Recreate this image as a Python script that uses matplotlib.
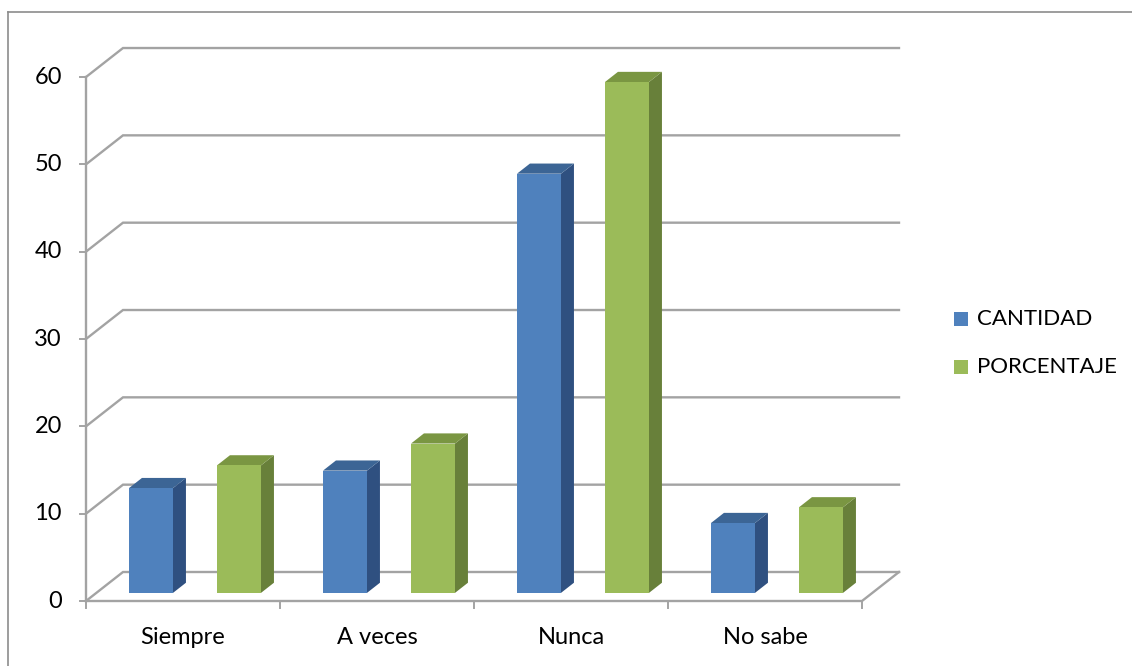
import matplotlib.pyplot as plt
from matplotlib.patches import Polygon, Rectangle
from matplotlib.lines import Line2D

categorias = ['Siempre', 'A veces', 'Nunca', 'No sabe']
cantidad = [12, 14, 48, 8]
porcentaje = [14.6, 17.1, 58.5, 9.8]
series = ['CANTIDAD', 'PORCENTAJE']
yticks = [0, 10, 20, 30, 40, 50, 60]

# front face, side face, top face
azul = ('#4F81BD', '#2F5080', '#3C6595')
verde = ('#9BBB59', '#68803A', '#7A9642')
gris = '#A3A3A3'

plt.rcParams['font.family'] = ['Lato', 'DejaVu Sans']

W, H = 1132, 666
fig = plt.figure(figsize=(W / 100, H / 100), dpi=100)
ax = fig.add_axes([0, 0, 1, 1])

# pixel scale: one category = 194 px, one unit of value = 8.733 px
x0, y0 = 86, 601
sx, sy = 194.0, 8.733
ax.set_xlim((0 - x0) / sx, (W - x0) / sx)
ax.set_ylim((y0 - H) / sy, (y0 - 0) / sy)
ax.axis('off')

# depth of the 3D box
dX = 37 / sx
dY = 29 / sy
n = len(categorias)

# outer frame
ax.add_line(Line2D([(8 - x0) / sx] * 2, [(y0 - 12) / sy, (y0 - H) / sy], color='#8C8C8C', lw=1.2))
ax.add_line(Line2D([(8 - x0) / sx, (W - x0) / sx], [(y0 - 12) / sy] * 2, color='#8C8C8C', lw=1.2))

# back wall gridlines (with the slanted side wall segment)
for v in yticks:
    ax.plot([0, dX, n + dX], [v, v + dY, v + dY], color=gris, lw=1.7, solid_joinstyle='miter', zorder=1)
# floor
ax.plot([0, n, n + dX], [0, 0, dY], color=gris, lw=1.7, zorder=1)
# front value axis with ticks
ax.plot([0, 0], [0, 60], color=gris, lw=1.7, zorder=1)
for v in yticks:
    ax.plot([-6 / sx, 0], [v, v], color=gris, lw=1.4, zorder=1)
    ax.text(-24 / sx, v, str(v), ha='right', va='center', fontsize=17, color='#000000')
for i in range(n + 1):
    ax.plot([i, i], [0, -7 / sy], color=gris, lw=1.4, zorder=1)
for i, c in enumerate(categorias):
    ax.text(i + 0.5, -37 / sy, c, ha='center', va='center', fontsize=17, color='#000000')

# bars sit part-way into the depth of the box
front = 0.28
deep = 0.35
bw = 44 / sx
offs = [43 / sx, 131 / sx]
bx, by = deep * dX, deep * dY
base = front * dY


def bar3d(left, h, cols):
    fc, sc, tc = cols
    ax.add_patch(Polygon([(left + bw, base), (left + bw + bx, base + by),
                          (left + bw + bx, base + h + by), (left + bw, base + h)],
                         closed=True, facecolor=sc, edgecolor='none', zorder=3))
    ax.add_patch(Polygon([(left, base + h), (left + bw, base + h),
                          (left + bw + bx, base + h + by), (left + bx, base + h + by)],
                         closed=True, facecolor=tc, edgecolor='none', zorder=3))
    ax.add_patch(Rectangle((left, base), bw, h, facecolor=fc,
                           edgecolor='none', zorder=4))


for i in range(n):
    bar3d(i + offs[0], cantidad[i], azul)
    bar3d(i + offs[1], porcentaje[i], verde)

# legend
for k, (name, cols) in enumerate(zip(series, [azul, verde])):
    cy = 319 + 48 * k
    ax.add_patch(Rectangle(((954 - x0) / sx, (y0 - cy - 7) / sy), 14 / sx, 14 / sy,
                           facecolor=cols[0], edgecolor='none'))
    ax.text((977 - x0) / sx, (y0 - cy) / sy, name, ha='left', va='center',
            fontsize=16, color='#000000')

fig.savefig('out.png', dpi=100)
